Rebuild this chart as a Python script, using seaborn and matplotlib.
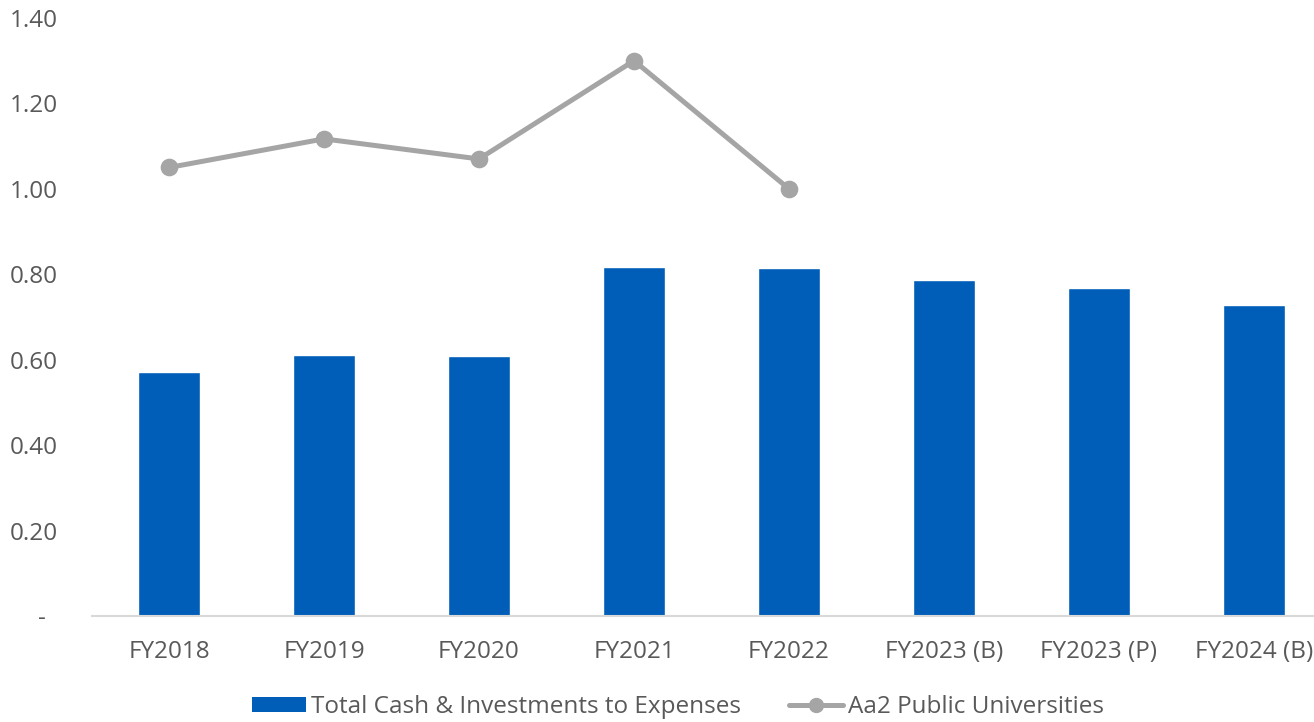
import matplotlib
matplotlib.use("Agg")
import matplotlib.pyplot as plt
from matplotlib.patches import Patch
from matplotlib.lines import Line2D
import seaborn as sns
import pandas as pd

categories = ["FY2018", "FY2019", "FY2020", "FY2021", "FY2022",
              "FY2023 (B)", "FY2023 (P)", "FY2024 (B)"]
cash_to_expenses = [0.571, 0.611, 0.609, 0.817, 0.815, 0.787, 0.768, 0.728]
peer_categories = ["FY2018", "FY2019", "FY2020", "FY2021", "FY2022"]
peer_values = [1.05, 1.117, 1.07, 1.30, 1.00]
y_ticks = [0.0, 0.2, 0.4, 0.6, 0.8, 1.0, 1.2, 1.4]

bar_label = "Total Cash & Investments to Expenses"
line_label = "Aa2 Public Universities"

BLUE = "#005EB8"
GREY = "#A5A5A5"
TEXT = "#595959"
FONT_SIZE = 17.5

sns.set_theme(style="white")
plt.rcParams["font.family"] = ["Open Sans", "DejaVu Sans"]

fig = plt.figure(figsize=(13.14, 7.22), dpi=100)
ax = fig.add_axes([91.5 / 1314, 106 / 722, 1240 / 1314, 598 / 722])

bars = pd.DataFrame({"category": categories, "value": cash_to_expenses})
peers = pd.DataFrame({"category": peer_categories, "value": peer_values})

sns.barplot(data=bars, x="category", y="value", order=categories,
            color=BLUE, saturation=1, width=0.4, ax=ax)
sns.pointplot(data=peers, x="category", y="value", order=categories,
              color=GREY, markers="o", markersize=10, linewidth=3.6, ax=ax)

ax.set_ylim(0, 1.4)
ax.set_xlim(-0.5, len(categories) - 0.5)
ax.set_yticks(y_ticks)
ax.set_yticklabels(["-  " if v == 0 else f"{v:.2f}" for v in y_ticks])
ax.set_xlabel("")
ax.set_ylabel("")
ax.tick_params(axis="y", length=0, pad=24, labelsize=FONT_SIZE, labelcolor=TEXT)
ax.tick_params(axis="x", length=0, pad=17, labelsize=FONT_SIZE, labelcolor=TEXT)

for side in ["top", "right", "left"]:
    ax.spines[side].set_visible(False)
ax.spines["bottom"].set_color("#D9D9D9")
ax.spines["bottom"].set_linewidth(1.5)

handles = [
    Patch(facecolor=BLUE, edgecolor="none", label=bar_label),
    Line2D([0], [0], color=GREY, linewidth=3.6, marker="o", markersize=10,
           label=line_label),
]
fig.legend(handles=handles, loc="center", bbox_to_anchor=(678 / 1314, 15 / 722),
           ncol=2, frameon=False, fontsize=FONT_SIZE, labelcolor=TEXT,
           handlelength=2.2, handleheight=0.6, handletextpad=0.2,
           columnspacing=2.0)

fig.savefig("out.png", dpi=100)
